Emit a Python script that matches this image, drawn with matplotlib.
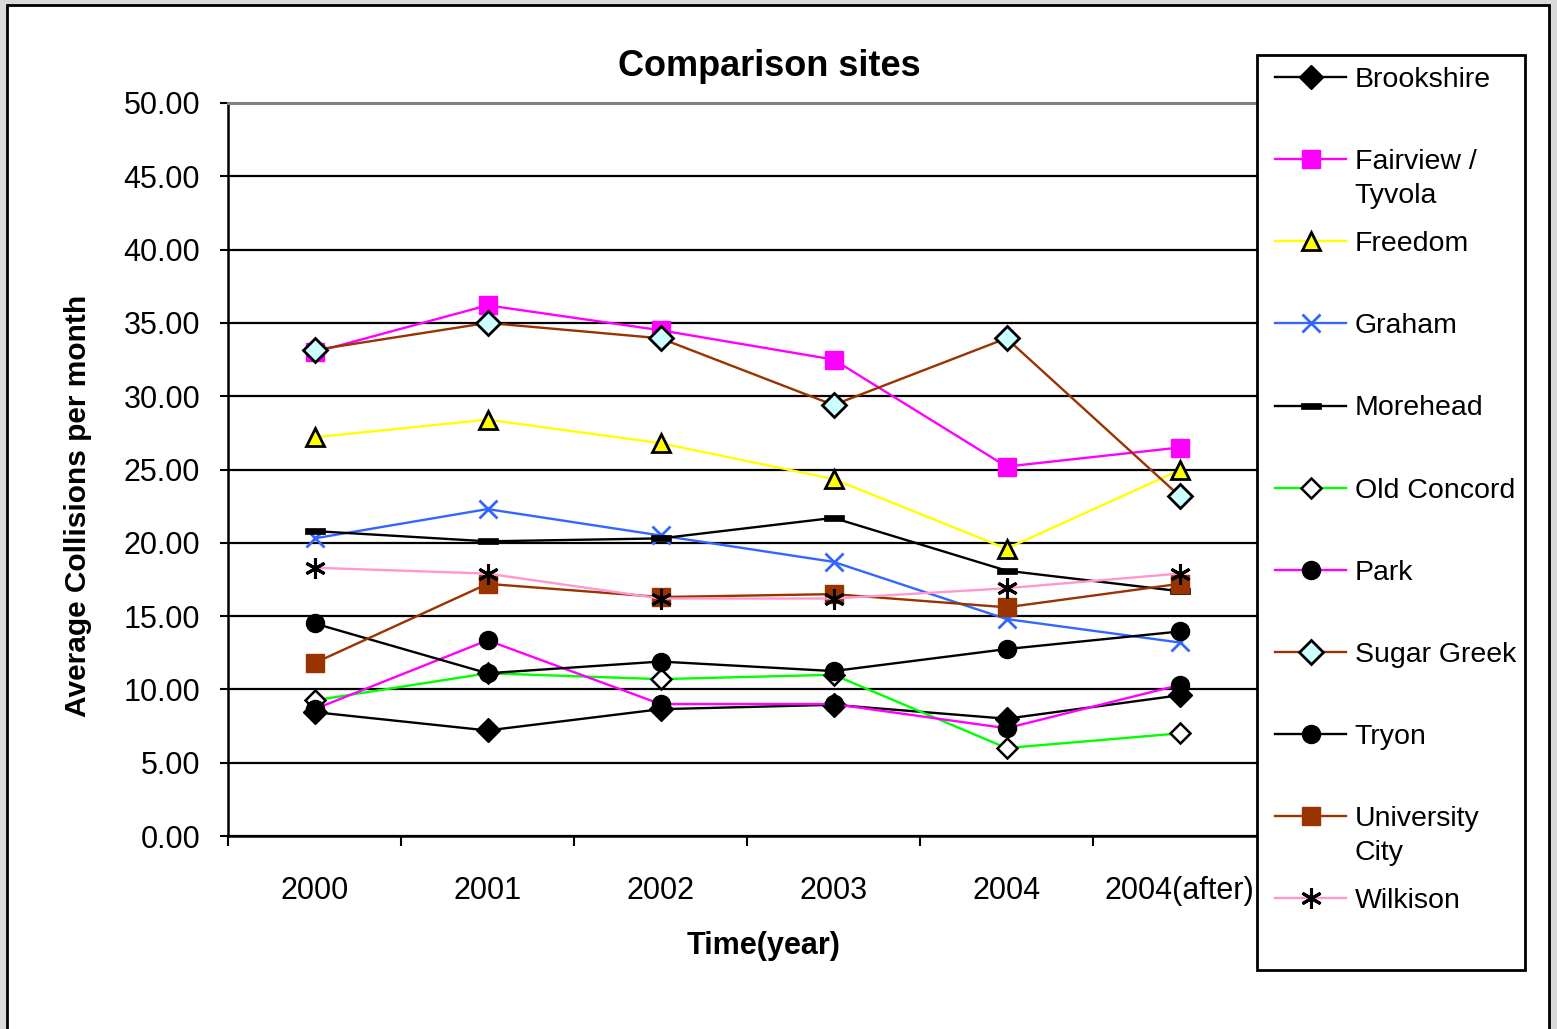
import matplotlib
matplotlib.use("Agg")
import matplotlib.pyplot as plt
from matplotlib.patches import Rectangle
from matplotlib.text import Annotation
from matplotlib.ticker import FixedLocator, NullFormatter, FixedFormatter

plt.rcParams['font.family'] = ['Liberation Sans', 'DejaVu Sans']

# ---------------- data ----------------
categories = ['2000', '2001', '2002', '2003', '2004', '2004(after)']
y_ticks = [0, 5, 10, 15, 20, 25, 30, 35, 40, 45, 50]

brookshire = [8.45, 7.2, 8.65, 8.95, 8.0, 9.6]
fairview_tyvola = [33.0, 36.2, 34.5, 32.5, 25.2, 26.5]
freedom = [27.2, 28.4, 26.8, 24.35, 19.6, 24.95]
graham = [20.3, 22.3, 20.5, 18.7, 14.8, 13.2]
morehead = [20.8, 20.1, 20.3, 21.7, 18.1, 16.7]
old_concord = [9.25, 11.1, 10.7, 11.0, 6.0, 7.0]
park = [8.65, 13.35, 9.0, 9.0, 7.35, 10.3]
sugar_greek = [33.15, 35.0, 33.95, 29.4, 33.95, 23.2]
tryon = [14.5, 11.1, 11.9, 11.25, 12.75, 13.95]
university_city = [11.8, 17.2, 16.3, 16.5, 15.6, 17.2]
wilkison = [18.3, 17.9, 16.2, 16.2, 16.9, 17.9]

series_names = ['Brookshire', 'Fairview /\nTyvola', 'Freedom', 'Graham', 'Morehead',
                'Old Concord', 'Park', 'Sugar Greek', 'Tryon', 'University\nCity', 'Wilkison']
series_values = [brookshire, fairview_tyvola, freedom, graham, morehead,
                 old_concord, park, sugar_greek, tryon, university_city, wilkison]

# ---------------- styles ----------------
bar_marker = [(-1, -0.3), (1, -0.3), (1, 0.3), (-1, 0.3), (-1, -0.3)]
styles = [
    dict(color='black', marker='D', ms=12, mfc='black', mec='black'),
    dict(color='#FF00FF', marker='s', ms=13.5, mfc='#FF00FF', mec='#FF00FF'),
    dict(color='#FFFF00', marker='^', ms=13.5, mfc='#FFFF00', mec='black', mew=2.0),
    dict(color='#3366FF', marker='x', ms=13.5, mec='#3366FF', mew=2.0),
    dict(color='black', marker=bar_marker, ms=15, mfc='black', mec='black', mew=0.5),
    dict(color='#00FF00', marker='D', ms=10, mfc='white', mec='black', mew=1.8),
    dict(color='#FF00FF', marker='o', ms=13, mfc='black', mec='black'),
    dict(color='#993300', marker='D', ms=12, mfc='#CCFFFF', mec='black', mew=2.0),
    dict(color='black', marker='o', ms=13, mfc='black', mec='black'),
    dict(color='#993300', marker='s', ms=13, mfc='#993300', mec='#993300'),
    dict(color='#FF99CC', marker=(6, 2, 0), ms=15, mec='black', mew=2.2),
]

W, H = 1557, 1029
fig = plt.figure(figsize=(W / 100, H / 100), dpi=100)
fig.patch.set_facecolor('#d9d9d9')


def fx(px):
    return px / W


def fy(py):
    return 1 - py / H


# chart area with black frame
fig.patches.append(Rectangle((fx(7), fy(1040)), fx(1549) - fx(7), fy(5) - fy(1040),
                             transform=fig.transFigure, facecolor='white',
                             edgecolor='black', linewidth=2.0, zorder=-5))

ax = fig.add_axes([fx(228), fy(836), fx(1266) - fx(228), fy(103) - fy(836)])
ax.set_facecolor('none')
ax.set_zorder(1)

x = list(range(len(categories)))
for name, vals, st in zip(series_names, series_values, styles):
    ax.plot(x, vals, label=name, linewidth=1.7, clip_on=False, zorder=3, **st)

ax.set_xlim(-0.5, len(categories) - 0.5)
ax.set_ylim(0, 50)
ax.set_yticks(y_ticks)
ax.set_yticklabels([f'{v:.2f}' for v in y_ticks], fontsize=22)

# x: tick marks at category boundaries, labels at category centres
ax.xaxis.set_major_locator(FixedLocator([i - 0.5 for i in range(len(categories) + 1)]))
ax.xaxis.set_major_formatter(NullFormatter())
ax.xaxis.set_minor_locator(FixedLocator(x))
ax.xaxis.set_minor_formatter(FixedFormatter(categories))
ax.tick_params(axis='x', which='major', direction='out', length=7, width=1.5)
ax.tick_params(axis='x', which='minor', length=0, pad=29, labelsize=22)
ax.tick_params(axis='y', direction='out', length=6, width=1.5, pad=14)

ax.grid(axis='y', color='black', linewidth=1.6, zorder=1)
ax.set_axisbelow(True)
for side in ['left', 'bottom']:
    ax.spines[side].set_linewidth(1.8)
    ax.spines[side].set_color('black')
ax.spines['top'].set_color('#808080')
ax.spines['top'].set_linewidth(2.2)
ax.spines['right'].set_color('#808080')
ax.spines['right'].set_linewidth(2.2)

fig.text(fx(769), fy(67), 'Comparison sites', ha='center', va='center',
         fontsize=26, fontweight='bold')
fig.text(fx(764), fy(946), 'Time(year)', ha='center', va='center',
         fontsize=22, fontweight='bold')
fig.text(fx(78), fy(506), 'Average Collisions per month', ha='center', va='center',
         rotation=90, fontsize=21.5, fontweight='bold')

# ---------------- legend ----------------
LEG_FS = 20.5
LINE_PX = 34  # distance between lines of a wrapped legend label
fig.patches.append(Rectangle((fx(1257), fy(970)), fx(1525) - fx(1257), fy(55) - fy(970),
                             transform=fig.transFigure, facecolor='white',
                             edgecolor='black', linewidth=2.0, zorder=4))
handles, labels = ax.get_legend_handles_labels()
first_lines = [l.split('\n')[0] for l in labels]
leg = fig.legend(handles, first_lines, loc='upper left', bbox_to_anchor=(fx(1268), fy(60)),
                 bbox_transform=fig.transFigure, frameon=False, fontsize=LEG_FS,
                 borderpad=0.25, borderaxespad=0, handlelength=2.5,
                 handletextpad=0.3, labelspacing=1.97)
leg.set_zorder(5)

# continuation lines of wrapped labels, placed under the first line (Excel style)
for txt, full in zip(leg.get_texts(), labels):
    for k, extra in enumerate(full.split('\n')[1:], start=1):
        ann = Annotation(extra, xy=(0, 0), xycoords=txt,
                         xytext=(0, -LINE_PX * k), textcoords='offset pixels',
                         ha='left', va='bottom', fontsize=LEG_FS, zorder=6)
        fig.add_artist(ann)

fig.savefig('out.png', dpi=100, facecolor=fig.get_facecolor())
